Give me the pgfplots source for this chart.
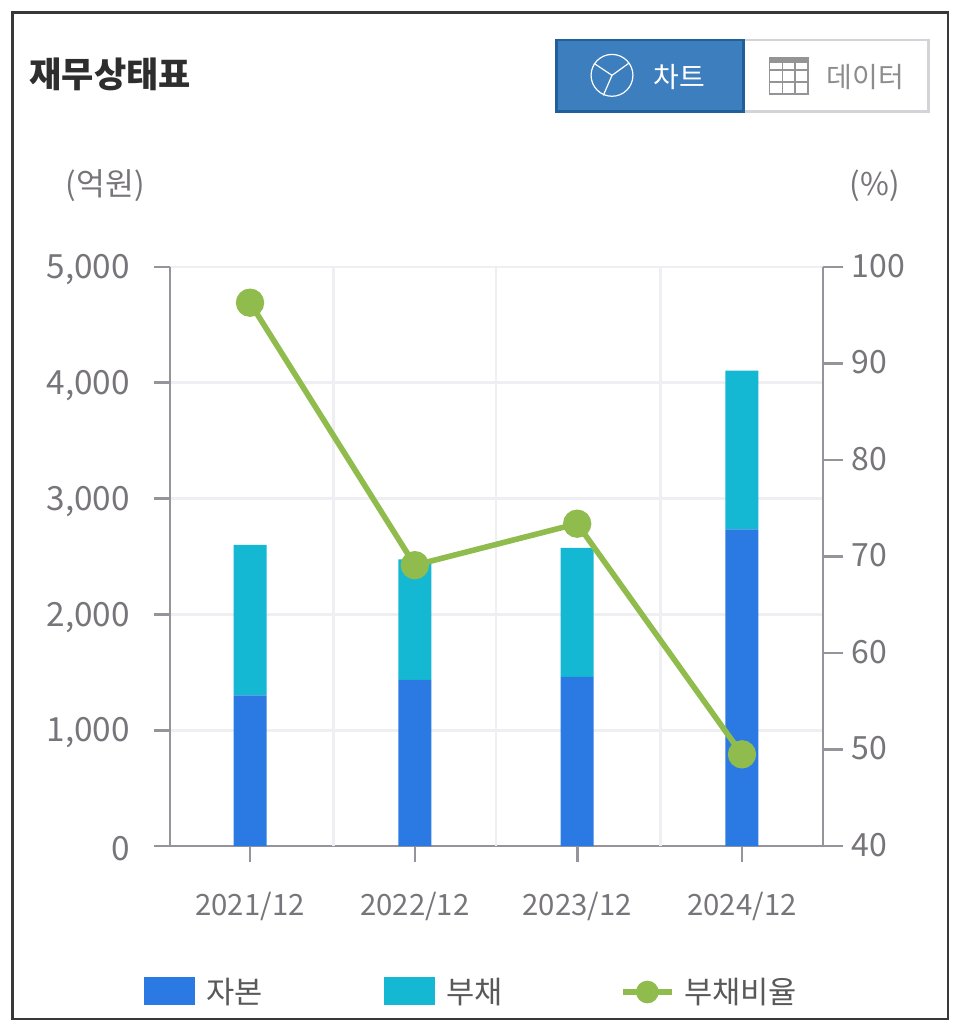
\documentclass[border=0pt]{standalone}
\usepackage{pgfplots}
\pgfplotsset{compat=1.18}
\usepackage{fontspec}
\setmainfont{Noto Sans CJK KR}
\definecolor{capc}{HTML}{2B7AE4}
\definecolor{debt}{HTML}{14B8D2}
\definecolor{lin}{HTML}{8FBC4C}
\definecolor{txt}{HTML}{77747A}
\definecolor{axc}{HTML}{96949A}
\definecolor{gr}{HTML}{EFEEF2}
\definecolor{btn}{HTML}{3C7EBE}
\definecolor{btnb}{HTML}{1F5F9A}
\definecolor{bdr}{HTML}{D4D4D8}
\begin{document}
\begin{tikzpicture}[x=1pt,y=-1pt]
\path[use as bounding box] (0,0) rectangle (720,773.25);
\draw[color=black!78,line width=1.6pt,fill=white] (9.4,9.4) rectangle (711,764.5);
\node[anchor=west,font=\fontsize{26.3}{26.3}\selectfont\bfseries,text=black!82,inner sep=0pt] at (22,55.5) {재무상태표};
\draw[bdr,fill=white,line width=1.8pt] (557.5,30) rectangle (696.5,83.5);
\draw[btnb,fill=btn,line width=1.8pt] (417.5,30) rectangle (557.5,83.5);
\draw[white,line width=0.9pt] (459,56.5) circle (15.7);
\draw[white,line width=0.9pt] (459,56.5) -- (445.5,47.5) (459,56.5) -- (471.5,47.5) (459,56.5) -- (452.5,71.5);
\node[text=white,font=\fontsize{21}{21}\selectfont,inner sep=0pt] at (509.5,58) {차트};
\draw[black!42,line width=1.1pt,fill=white] (577,43) rectangle (606,70.5);
\fill[black!42] (577,43) rectangle (606,47.5);
\draw[black!42,line width=1.1pt] (586.7,43)--(586.7,70.5) (596.3,43)--(596.3,70.5) (577,52.5)--(606,52.5) (577,61.5)--(606,61.5);
\node[text=black!45,font=\fontsize{21}{21}\selectfont,inner sep=0pt] at (649,58) {데이터};
\node[text=txt,font=\fontsize{23.5}{23.5}\selectfont,inner sep=0pt] at (79,139) {(억원)};
\node[text=txt,font=\fontsize{23.5}{23.5}\selectfont,inner sep=0pt] at (656,139) {(\%)};
\begin{axis}[at={(127.5pt,-634.5pt)},anchor=south west,
  scale only axis,width=489.75pt,height=434.25pt,
  xmin=-0.488,xmax=3.494,ymin=0,ymax=5000,
  axis y line*=left,axis x line*=bottom,
  every outer x axis line/.append style={axc,line width=2.2pt,-},
  every outer y axis line/.append style={axc,line width=2.2pt,-},
  ymajorgrids,grid style={gr,line width=2pt},
  extra x ticks={0.51,1.5,2.505},extra x tick labels={},
  extra x tick style={major tick length=0pt,grid=major,grid style={gr,line width=2pt}},
  xtick={0,1.005,1.995,3},xticklabels={2021/12,2022/12,2023/12,2024/12},
  ytick={0,1000,2000,3000,4000,5000},
  /pgf/number format/1000 sep={,},/pgf/number format/assume math mode=true,
  every tick/.append style={axc,line width=2pt},
  every major tick/.append style={axc,line width=2pt},
  major tick length=12pt,
  xtick align=outside,ytick align=outside,
  xticklabel style={text=txt,font=\fontsize{22}{22}\selectfont,yshift=-19pt},
  yticklabel style={text=txt,font=\fontsize{25}{25}\selectfont,xshift=-14.5pt,yshift=-2pt},
  ybar stacked,bar width=24.75pt,clip=false]
\addplot[fill=capc,draw=none] coordinates {(0,1300) (1.005,1435) (1.995,1460) (3,2735)};
\addplot[fill=debt,draw=none] coordinates {(0,1300) (1.005,1040) (1.995,1115) (3,1370)};
\end{axis}
\begin{axis}[at={(127.5pt,-634.5pt)},anchor=south west,
  scale only axis,width=489.75pt,height=434.25pt,
  xmin=-0.488,xmax=3.494,ymin=40,ymax=100,
  axis y line*=right,axis x line=none,
  every outer y axis line/.append style={axc,line width=2.2pt,-},
  ytick={40,50,...,100},
  every tick/.append style={axc,line width=2pt},
  every major tick/.append style={axc,line width=2pt},
  major tick length=15pt,
  ytick align=outside,
  /pgf/number format/assume math mode=true,
  yticklabel style={text=txt,font=\fontsize{24}{24}\selectfont,xshift=3pt,yshift=1pt},clip=false]
\addplot[lin,line width=4.2pt,mark=*,mark size=8.5pt,mark options={fill=lin,draw=none}] coordinates {(0,96.3) (1.005,69.1) (1.995,73.4) (3,49.5)};
\end{axis}
\fill[capc] (108,732.5) rectangle (146,753.5);
\node[text=black!65,font=\fontsize{23}{23}\selectfont,inner sep=0pt] at (176,744) {자본};
\fill[debt] (288,732.5) rectangle (326,753.5);
\node[text=black!65,font=\fontsize{23}{23}\selectfont,inner sep=0pt] at (356,744) {부채};
\draw[lin,line width=4.2pt] (467,744)--(504,744);
\fill[lin] (485.5,744) circle (8.5pt);
\node[text=black!65,font=\fontsize{23}{23}\selectfont,inner sep=0pt] at (555.5,744) {부채비율};
\end{tikzpicture}
\end{document}
